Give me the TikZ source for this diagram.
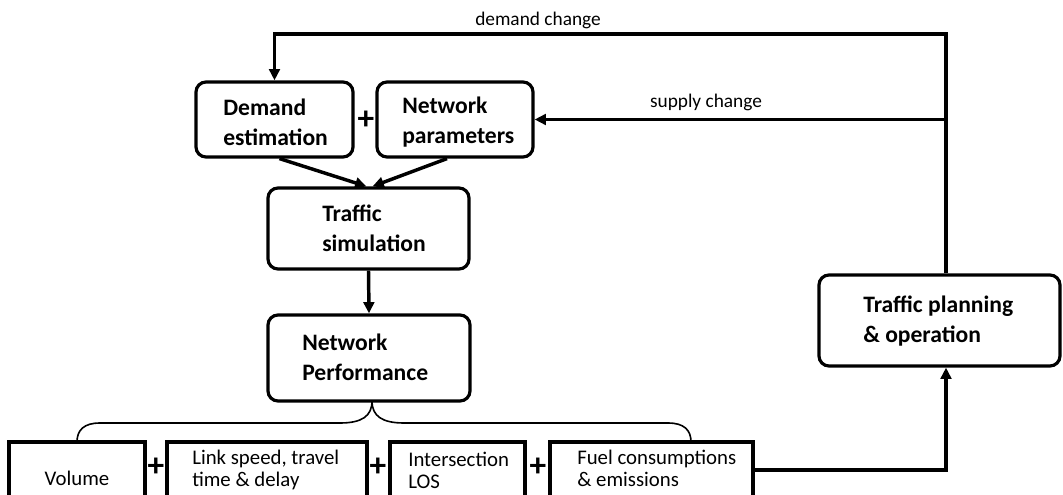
\documentclass[tikz,border=0pt]{standalone}
\usepackage{fontspec}
\setmainfont{Carlito}
\usetikzlibrary{arrows.meta,fit,calc}
\begin{document}
\begin{tikzpicture}[x=0.75pt,y=-0.75pt,
  rbox/.style={draw,line width=2.4pt,rounded corners=7.5pt,inner sep=0pt},
  sbox/.style={draw,line width=2.6pt,inner sep=0pt},
  btxt/.style={font=\fontsize{17.7}{22.5}\selectfont\bfseries,align=left,inner sep=0pt,anchor=west},
  ntxt/.style={font=\fontsize{15.6}{16.5}\selectfont,align=left,inner sep=0pt,anchor=west},
  lbl/.style={font=\fontsize{14.5}{17}\selectfont,inner sep=0pt},
  plus/.style={font=\fontsize{25}{26}\selectfont\bfseries,inner sep=0pt},
  conn/.style={line width=2.6pt},
  arr/.style={conn,-{Triangle[length=8.5pt,width=8pt]}},
  brace/.style={line width=1.2pt}]
\useasboundingbox (0,0) rectangle (1063,495);
\clip (0,0) rectangle (1063,495);

% upper boxes
\node[rbox,fit={(196,82)(353,157)}] (demand) {};
\node[btxt] (demandtxt) at (223,122) {Demand\\estimation};
\node[plus] (plus0) at (366,120) {+};
\node[rbox,fit={(377,82)(533,157)}] (netp) {};
\node[btxt] (netptxt) at (402,122) {Network\\parameters};

\node[rbox,fit={(268,188)(469,269)}] (sim) {};
\node[btxt] (simtxt) at (322,228) {Traffic\\simulation};

\node[rbox,fit={(268,315)(470,401)}] (perf) {};
\node[btxt] (perftxt) at (302,357) {Network\\Performance};

\node[rbox,fit={(819,275)(1060,366)}] (plan) {};
\node[btxt] (plantxt) at (863,321) {Traffic planning\\\& operation};

% performance measures
\node[sbox,fit={(9,442)(145,505)}] (vol) {};
\node[ntxt,anchor=center] (voltxt) at (77,478) {Volume};
\node[plus] (plus1) at (156,467) {+};
\node[sbox,fit={(167,442)(367,505)}] (link) {};
\node[ntxt] (linktxt) at (192,470) {Link speed, travel\\time \& delay};
\node[plus] (plus2) at (378,467) {+};
\node[sbox,fit={(390,442)(525,505)}] (inter) {};
\node[ntxt] (intertxt) at (408,470) {Intersection\\LOS};
\node[plus] (plus3) at (538,467) {+};
\node[sbox,fit={(550,442)(753,505)}] (fuel) {};
\node[ntxt] (fueltxt) at (577,468) {Fuel consumptions\\\& emissions};

% feedback loops
\coordinate (tr) at (946,34);
\coordinate (br) at (946,470);
\draw[arr] (plan.north -| tr) -- (tr) -| (demand.north);
\draw[arr] (tr |- netp.east) -- (netp.east);
\node[lbl] (dlbl) at (538,20) {demand change};
\node[lbl] (slbl) at (706,102) {supply change};
\draw[arr] (fuel.east |- br) -- (br) -- (plan.south -| br);

% main flow
\draw[arr] ($(demand.south)+(5,0)$) -- ($(sim.north)+(-2,0)$);
\draw[arr] ($(netp.south)+(-8,0)$) -- ($(sim.north)+(4,0)$);
\draw[arr] (sim.south) -- (perf.north);

% brace
\coordinate (btip) at (372,401);
\draw[brace] (btip) .. controls (372,416) and (362,423) .. (340,423)
  -- (100,423) .. controls (84,423) and (77,430) .. (77,442);
\draw[brace] (btip) .. controls (372,416) and (382,423) .. (404,423)
  -- (668,423) .. controls (684,423) and (691,430) .. (691,442);
\end{tikzpicture}
\end{document}
